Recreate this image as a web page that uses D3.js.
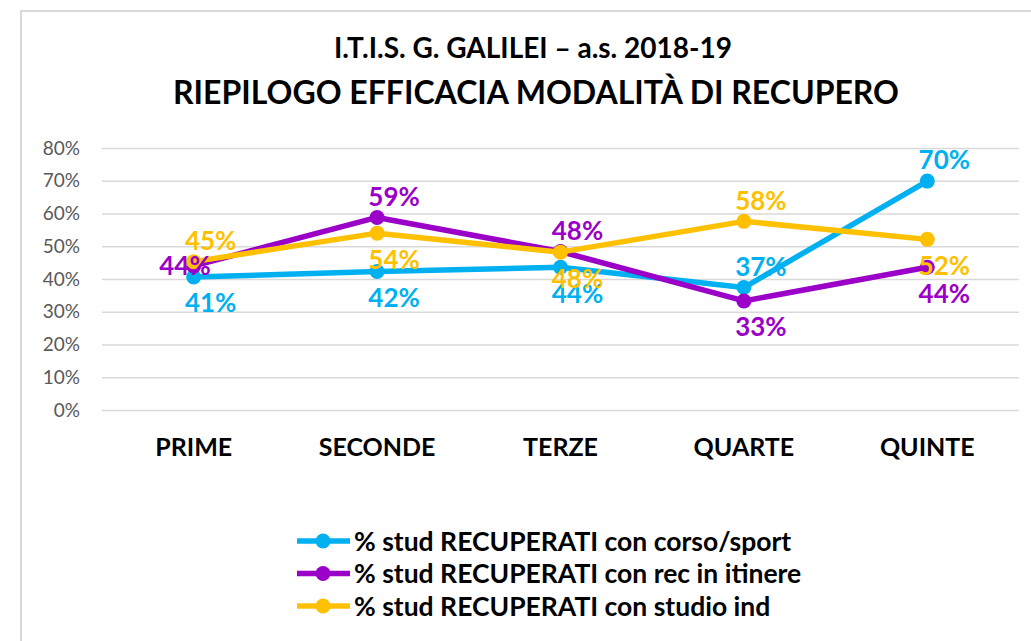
<!DOCTYPE html>
<html>
<head>
<meta charset="utf-8">
<script src="https://cdn.jsdelivr.net/npm/d3@7"></script>
<style>
  body { margin: 0; background: #fff; }
  svg { display: block; font-family: Lato, "Open Sans", sans-serif; }
</style>
</head>
<body>
<div id="chart"></div>
<script>
// chart data
let categories = ["PRIME", "SECONDE", "TERZE", "QUARTE", "QUINTE"];
let seriesNames = [
    "% stud RECUPERATI con corso/sport",
    "% stud RECUPERATI con rec in itinere",
    "% stud RECUPERATI con studio ind"
];
let corsoSport = [40.6, 42.3, 43.6, 37.4, 69.9];
let recItinere = [44.0, 58.8, 48.4, 33.3, 43.6];
let studioInd = [45.3, 54.0, 48.2, 57.6, 52.1];
let yTicks = [0, 10, 20, 30, 40, 50, 60, 70, 80];

// where each data label sits relative to its point
let labelPlacement = [
    ["below", "below", "below", "above", "above"],
    ["left", "above", "above", "below", "below"],
    ["above", "below", "below", "above", "below"]
];

let colors = ["#00B0F0", "#9A00C8", "#FFC000"];

let width = 1031;
let height = 641;

let svg = d3.select("#chart")
    .append("svg")
    .attr("width", width)
    .attr("height", height);

// chart frame
svg.append("rect")
    .attr("x", 21)
    .attr("y", 11)
    .attr("width", width)
    .attr("height", height)
    .attr("fill", "#fff")
    .attr("stroke", "#d9d9d9")
    .attr("stroke-width", 2);

// titles
svg.append("text")
    .attr("x", 533)
    .attr("y", 58)
    .attr("text-anchor", "middle")
    .attr("font-weight", "bold")
    .attr("font-size", 28)
    .text("I.T.I.S. G. GALILEI – a.s. 2018-19");

svg.append("text")
    .attr("x", 536)
    .attr("y", 104)
    .attr("text-anchor", "middle")
    .attr("font-weight", "bold")
    .attr("font-size", 32)
    .text("RIEPILOGO EFFICACIA MODALITÀ DI RECUPERO");

// scales
let x = d3.scaleBand()
    .domain(categories)
    .range([102, 1019]);

let y = d3.scaleLinear()
    .domain([0, 80])
    .range([410, 148]);

// gridlines + y labels
let yAxis = d3.axisLeft(y)
    .tickValues(yTicks)
    .tickSize(-(1019 - 102))
    .tickPadding(22)
    .tickFormat(d => d + "%");

let gy = svg.append("g")
    .attr("transform", "translate(102,0)")
    .call(yAxis);

gy.select(".domain").remove();
gy.selectAll(".tick line")
    .attr("stroke", "#d9d9d9")
    .attr("stroke-width", 1.5);
gy.selectAll(".tick text")
    .attr("fill", "#595959")
    .attr("font-size", 19)
    .attr("font-family", "Lato, sans-serif");

// x labels
let xAxis = d3.axisBottom(x).tickSize(0).tickPadding(0);
let gx = svg.append("g")
    .attr("transform", "translate(0,438)")
    .call(xAxis);
gx.select(".domain").remove();
gx.selectAll(".tick text")
    .attr("fill", "#000")
    .attr("font-size", 25)
    .attr("font-weight", "bold")
    .attr("font-family", "Lato, sans-serif");

// series
let allSeries = [corsoSport, recItinere, studioInd];

function cx(i)
{
    return x(categories[i]) + x.bandwidth() / 2;
}

let line = d3.line()
    .x((d, i) => cx(i))
    .y(d => y(d));

allSeries.forEach(function(values, s)
{
    let g = svg.append("g");

    g.append("path")
        .datum(values)
        .attr("d", line)
        .attr("fill", "none")
        .attr("stroke", colors[s])
        .attr("stroke-width", 5.5)
        .attr("stroke-linejoin", "round")
        .attr("stroke-linecap", "round");

    g.selectAll("circle")
        .data(values)
        .enter()
        .append("circle")
        .attr("cx", (d, i) => cx(i))
        .attr("cy", d => y(d))
        .attr("r", 7.5)
        .attr("fill", colors[s]);
});

// data labels drawn after lines so they sit on top
// (labels in the original sit a bit right of their point)
allSeries.forEach(function(values, s)
{
    svg.append("g")
        .selectAll("text")
        .data(values)
        .enter()
        .append("text")
        .attr("x", (d, i) => cx(i) + 17)
        .attr("y", function(d, i) {
            let p = labelPlacement[s][i];
            if (p === "above") return y(d) - 21;
            if (p === "below") return y(d) + 26;
            return y(d);
        })
        .attr("dy", "0.36em")
        .attr("text-anchor", (d, i) => labelPlacement[s][i] === "left" ? "end" : "middle")
        .attr("fill", colors[s])
        .attr("font-size", 26)
        .attr("font-weight", "bold")
        .text(d => Math.round(d) + "%");
});

// legend
let legend = svg.append("g");
seriesNames.forEach(function(name, s)
{
    let ly = 541 + s * 32.5;
    legend.append("line")
        .attr("x1", 297)
        .attr("x2", 350)
        .attr("y1", ly)
        .attr("y2", ly)
        .attr("stroke", colors[s])
        .attr("stroke-width", 5.5);
    legend.append("circle")
        .attr("cx", 323)
        .attr("cy", ly)
        .attr("r", 7.5)
        .attr("fill", colors[s]);
    legend.append("text")
        .attr("x", 354)
        .attr("y", ly)
        .attr("dy", "0.36em")
        .attr("font-size", 26.5)
        .attr("font-weight", "bold")
        .attr("fill", "#000")
        .text(name);
});
</script>
</body>
</html>
